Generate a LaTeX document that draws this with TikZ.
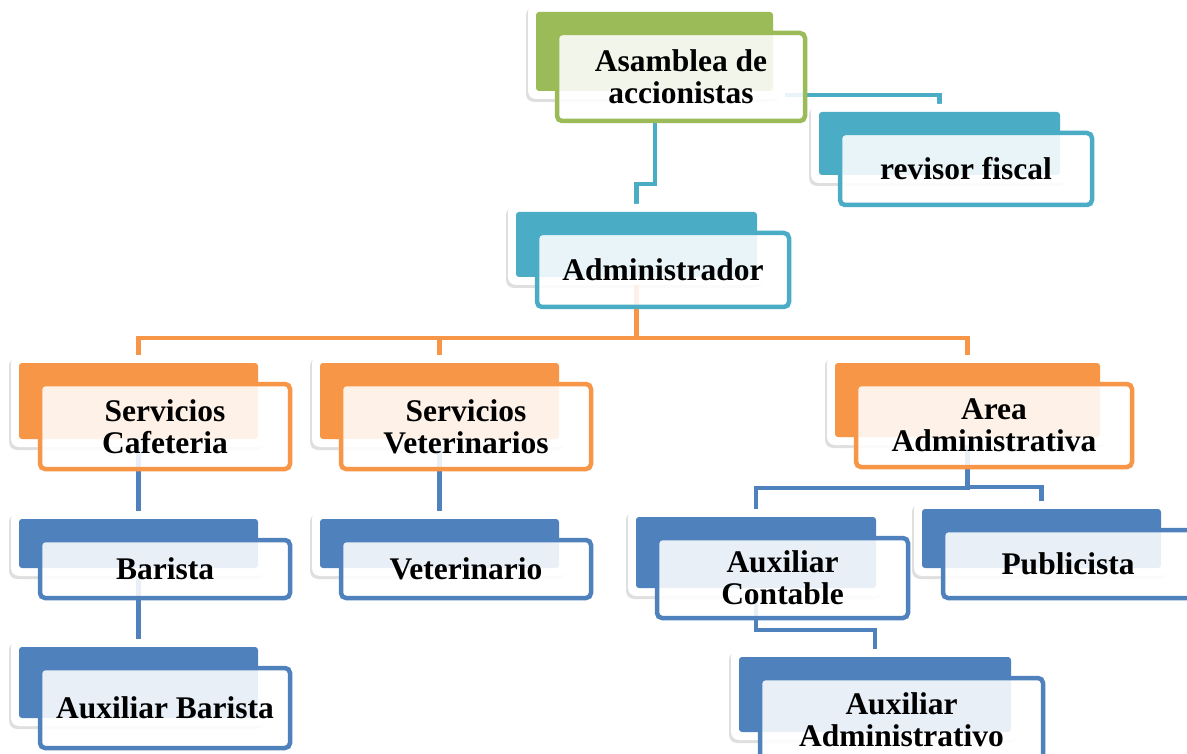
\documentclass[tikz,border=0pt]{standalone}
\usepackage{fontspec}
\setmainfont{Liberation Serif}
\usetikzlibrary{shadows,calc}
\definecolor{grn}{HTML}{9BBB59}
\definecolor{aqua}{HTML}{4BACC6}
\definecolor{org}{HTML}{F79646}
\definecolor{blu}{HTML}{4F81BD}
\pgfdeclarelayer{paper}
\pgfdeclarelayer{bg}
\pgfsetlayers{paper,bg,main}
\tikzset{
  outerbox/.style={draw=none, fill=white, rounded corners=8pt, inner sep=0pt, outer sep=0pt,
    drop shadow={shadow xshift=-2pt, shadow yshift=-3pt, opacity=0.25, fill=black!50}},
  backbox/.style={draw=none, fill=#1, rounded corners=3pt, inner sep=0pt, outer sep=0pt},
  frontbox/.style={draw=#1, line width=4.5pt, rounded corners=5pt, fill=white, fill opacity=0.88,
    text opacity=1, inner sep=0pt, outer sep=0pt, align=center,
    font=\bfseries\fontsize{31.5}{32}\selectfont},
  conn/.style={draw=#1, line width=4.5pt}
}
% name, colour, x1, y1, x2, y2, text
\newcommand\orgbox[7]{%
  \node[outerbox, minimum width={(#5-#3+5)*1pt}, minimum height={(#6-#4+7)*1pt}]
    (#1-bg) at ({(#3+#5)/2-26.5},{(#4+#6)/2-25.5}) {};
  \node[backbox=#2, minimum width={(#5-#3-11)*1pt}, minimum height={(#6-#4-9)*1pt}]
    (#1-back) at ({(#3+#5)/2-26.5},{(#4+#6)/2-25.5}) {};
  \node[frontbox=#2, minimum width={(#5-#3)*1pt}, minimum height={(#6-#4)*1pt}]
    (#1) at ({(#3+#5)/2},{(#4+#6)/2}) {#7};
}
\begin{document}
\begin{tikzpicture}[x=1pt,y=-1pt]
\useasboundingbox (0,0) rectangle (1187,754);
\begin{pgfonlayer}{paper}
\fill[white] (0,0) rectangle (1187,754);
\end{pgfonlayer}
\orgbox{asm}{grn}{557}{33}{805}{121}{Asamblea de\\accionistas}
\orgbox{rev}{aqua}{840}{133}{1092}{205}{revisor fiscal}
\orgbox{adm}{aqua}{537}{233}{789}{307}{Administrador}
\orgbox{caf}{org}{40}{384}{290}{469}{Servicios\\Cafeteria}
\orgbox{vet}{org}{341}{384}{591}{469}{Servicios\\Veterinarios}
\orgbox{area}{org}{856}{384}{1132}{467}{Area\\Administrativa}
\orgbox{bar}{blu}{40}{540}{290}{598}{Barista}
\orgbox{vetr}{blu}{341}{540}{591}{598}{Veterinario}
\orgbox{auxc}{blu}{657}{538}{908}{618}{Auxiliar\\Contable}
\orgbox{pub}{blu}{943}{530}{1193}{598}{Publicista}
\orgbox{auxb}{blu}{40}{668}{290}{748}{Auxiliar Barista}
\orgbox{auxa}{blu}{760}{678}{1043}{762}{Auxiliar\\Administrativo}
\begin{pgfonlayer}{bg}
\draw[conn=aqua] ($(asm.south)+(-26,0)$) |- ($(adm-back.north)+(0,-28)$) -- (adm-back.north);
\draw[conn=aqua] ($(asm.east)+(-20,18)$) -| (rev-back.north);
\draw[conn=org] (adm-back.south) |- ($(caf-back.north)+(0,-25)$) -- (caf-back.north);
\draw[conn=org] (adm-back.south) |- ($(vet-back.north)+(0,-25)$) -- (vet-back.north);
\draw[conn=org] (adm-back.south) |- ($(area-back.north)+(0,-25)$) -- (area-back.north);
\draw[conn=blu] (caf-back.south) -- (bar-back.north);
\draw[conn=blu] (bar-back.south) -- (auxb-back.north);
\draw[conn=blu] (vet-back.south) -- (vetr-back.north);
\draw[conn=blu] (area-back.south) |- ($(auxc-back.north)+(0,-29)$) -- (auxc-back.north);
\draw[conn=blu] (area-back.south) |- ($(pub-back.north)+(0,-22)$) -- (pub-back.north);
\draw[conn=blu] (auxc-back.south) |- ($(auxa-back.north)+(0,-27)$) -- (auxa-back.north);
\end{pgfonlayer}
\end{tikzpicture}
\end{document}
